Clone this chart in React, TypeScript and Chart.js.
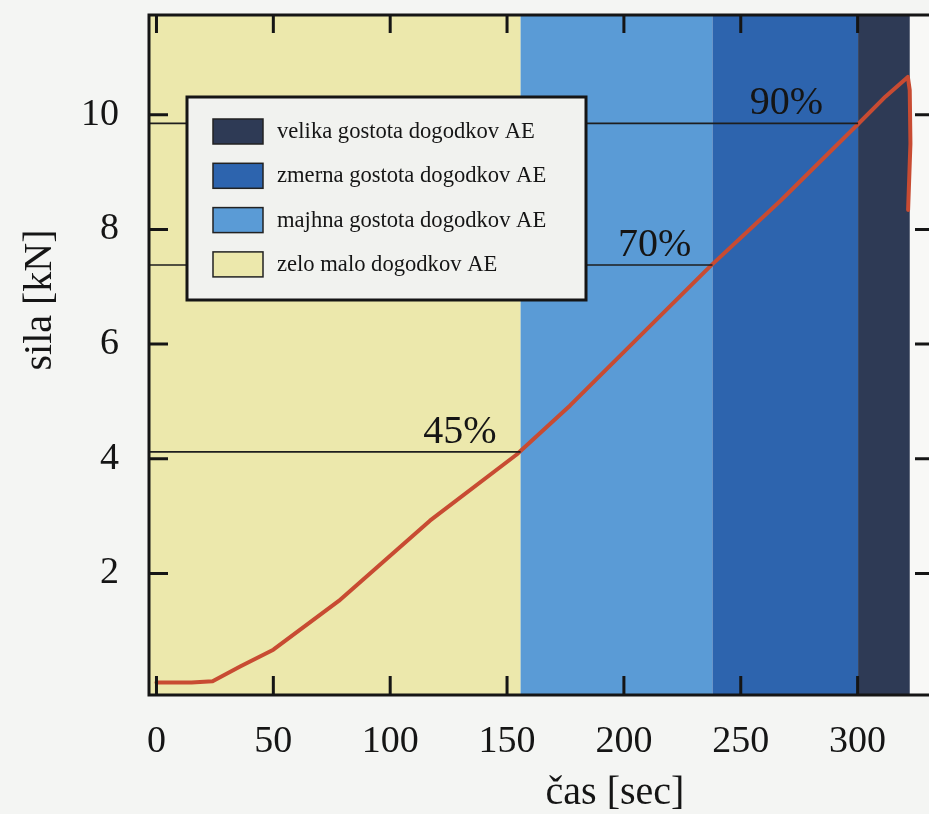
import React, { useEffect, useRef } from "react";
import { Chart, registerables } from "chart.js";

Chart.register(...registerables);

// ---- data ----
const timeSec = [0, 15, 24, 36, 50, 78, 117, 154, 177, 194, 237, 267, 300, 312, 321.5, 322.3, 322.6, 321.6];
const forceKN = [0.1, 0.1, 0.12, 0.38, 0.67, 1.52, 2.92, 4.07, 4.93, 5.62, 7.36, 8.5, 9.83, 10.32, 10.66, 10.43, 9.5, 8.34];

const bandLabels = [
  "zelo malo dogodkov AE",
  "majhna gostota dogodkov AE",
  "zmerna gostota dogodkov AE",
  "velika gostota dogodkov AE",
];
const bandStart = [-3.2, 155.8, 237.9, 300.2];
const bandEnd = [155.8, 237.9, 300.2, 322.3];

const refLabels = ["45%", "70%", "90%"];
const refForce = [4.12, 7.38, 9.85];
const refEndTime = [155.8, 237.9, 300.2];
const refLabelTime = [129.8, 213.2, 269.5];

const xTicks = [0, 50, 100, 150, 200, 250, 300];
const yTicks = [2, 4, 6, 8, 10];

const xMin = -3.2;
const xMax = 331.4;
const yMin = -0.12;
const yMax = 11.74;

const xTitle = "čas [sec]";
const yTitle = "sila [kN]";

// ---- styles ----
const BAND_COLORS = ["#ECE8AC", "#5A9BD6", "#2D64AE", "#2E3A55"];
const CURVE_COLOR = "#C84B32";
const INK = "#151515";
const FONT = '"Liberation Serif", "Times New Roman", serif';
const PAGE_BG = "#f4f5f3";
const PLOT_BG = "#f8f8f6";

const decor = {
  id: "decor",
  beforeDatasetsDraw(chart: any) {
    const { ctx, chartArea: a, scales } = chart;
    const x = scales.x;
    ctx.save();
    ctx.fillStyle = PLOT_BG;
    ctx.fillRect(a.left, a.top, a.right - a.left, a.bottom - a.top);
    bandStart.forEach((s, i) => {
      const x0 = x.getPixelForValue(s);
      const x1 = x.getPixelForValue(bandEnd[i]);
      ctx.fillStyle = BAND_COLORS[i];
      ctx.fillRect(x0, a.top, x1 - x0, a.bottom - a.top);
    });
    ctx.restore();
  },
  afterDatasetsDraw(chart: any) {
    const { ctx, chartArea: a, scales } = chart;
    const x = scales.x;
    const y = scales.y;
    ctx.save();

    // frame
    ctx.strokeStyle = INK;
    ctx.lineWidth = 3;
    ctx.strokeRect(a.left, a.top, a.right - a.left, a.bottom - a.top);

    // inner ticks
    ctx.lineWidth = 3;
    ctx.beginPath();
    xTicks.forEach((v) => {
      const px = x.getPixelForValue(v);
      ctx.moveTo(px, a.bottom);
      ctx.lineTo(px, a.bottom - 19);
      ctx.moveTo(px, a.top);
      ctx.lineTo(px, a.top + 18);
    });
    yTicks.forEach((v) => {
      const py = y.getPixelForValue(v);
      ctx.moveTo(a.left, py);
      ctx.lineTo(a.left + 19, py);
      ctx.moveTo(a.right, py);
      ctx.lineTo(a.right - 16, py);
    });
    ctx.stroke();

    // percent labels
    ctx.fillStyle = INK;
    ctx.font = `40px ${FONT}`;
    ctx.textAlign = "center";
    ctx.textBaseline = "alphabetic";
    refLabels.forEach((t, i) => {
      ctx.fillText(t, x.getPixelForValue(refLabelTime[i]), y.getPixelForValue(refForce[i]) - 9);
    });

    // legend box
    const lx = a.left + 38;
    const ly = a.top + 82;
    const lw = 399;
    const lh = 203;
    ctx.fillStyle = "#f1f2ef";
    ctx.fillRect(lx, ly, lw, lh);
    ctx.strokeStyle = INK;
    ctx.lineWidth = 3;
    ctx.strokeRect(lx, ly, lw, lh);
    ctx.font = `22.6px ${FONT}`;
    ctx.textAlign = "left";
    ctx.textBaseline = "middle";
    const order = [3, 2, 1, 0];
    order.forEach((bi, r) => {
      const sy = ly + 22 + r * 44.3;
      ctx.fillStyle = BAND_COLORS[bi];
      ctx.fillRect(lx + 26, sy, 50, 25);
      ctx.lineWidth = 1.5;
      ctx.strokeStyle = "#222";
      ctx.strokeRect(lx + 26, sy, 50, 25);
      ctx.fillStyle = INK;
      ctx.fillText(bandLabels[bi], lx + 90, sy + 13);
    });

    ctx.restore();
  },
  afterDraw(chart: any) {
    const { ctx } = chart;
    ctx.save();
    ctx.fillStyle = INK;
    ctx.font = `40px ${FONT}`;
    ctx.textAlign = "center";
    ctx.textBaseline = "middle";
    ctx.fillText(xTitle, 615, 793);
    ctx.translate(40, 300);
    ctx.rotate(-Math.PI / 2);
    ctx.fillText(yTitle, 0, 0);
    ctx.restore();
  },
};

export default function App() {
  const ref = useRef<HTMLCanvasElement | null>(null);

  useEffect(() => {
    if (!ref.current) return;
    const curve = timeSec.map((t, i) => ({ x: t, y: forceKN[i] }));
    const refSets = refForce.map((f, i) => ({
      type: "line" as const,
      data: [
        { x: xMin, y: f },
        { x: refEndTime[i], y: f },
      ],
      borderColor: "#1e1e1e",
      borderWidth: 1.6,
      pointRadius: 0,
      tension: 0,
    }));
    const chart = new Chart(ref.current, {
      type: "line",
      data: {
        datasets: [
          ...refSets,
          {
            data: curve,
            borderColor: CURVE_COLOR,
            borderWidth: 4,
            pointRadius: 0,
            tension: 0,
            borderJoinStyle: "round",
            borderCapStyle: "round",
          },
        ],
      } as any,
      options: {
        animation: false,
        responsive: false,
        devicePixelRatio: 1,
        layout: { padding: { top: 15, right: 9, left: 0, bottom: 0 } },
        plugins: { legend: { display: false }, tooltip: { enabled: false } },
        scales: {
          x: {
            type: "linear",
            min: xMin,
            max: xMax,
            grid: { display: false, drawTicks: false },
            border: { display: false },
            afterBuildTicks: (s: any) => {
              s.ticks = xTicks.map((v) => ({ value: v }));
            },
            afterFit: (s: any) => {
              s.height = 119;
              s.paddingLeft = 0;
              s.paddingRight = 0;
            },
            ticks: {
              autoSkip: false,
              maxRotation: 0,
              padding: 24,
              color: INK,
              font: { family: FONT, size: 38 },
            },
          },
          y: {
            type: "linear",
            min: yMin,
            max: yMax,
            grid: { display: false, drawTicks: false },
            border: { display: false },
            afterBuildTicks: (s: any) => {
              s.ticks = yTicks.map((v) => ({ value: v }));
            },
            afterFit: (s: any) => {
              s.width = 149;
              s.paddingTop = 0;
              s.paddingBottom = 0;
            },
            ticks: {
              padding: 30,
              color: INK,
              font: { family: FONT, size: 38 },
            },
          },
        },
      },
      plugins: [decor],
    });
    return () => chart.destroy();
  }, []);

  return (
    <div
      style={{
        position: "absolute",
        left: 0,
        top: 0,
        width: 929,
        height: 814,
        overflow: "hidden",
        background: PAGE_BG,
      }}
    >
      <canvas ref={ref} width={940} height={814} style={{ display: "block", width: 940, height: 814 }} />
    </div>
  );
}
